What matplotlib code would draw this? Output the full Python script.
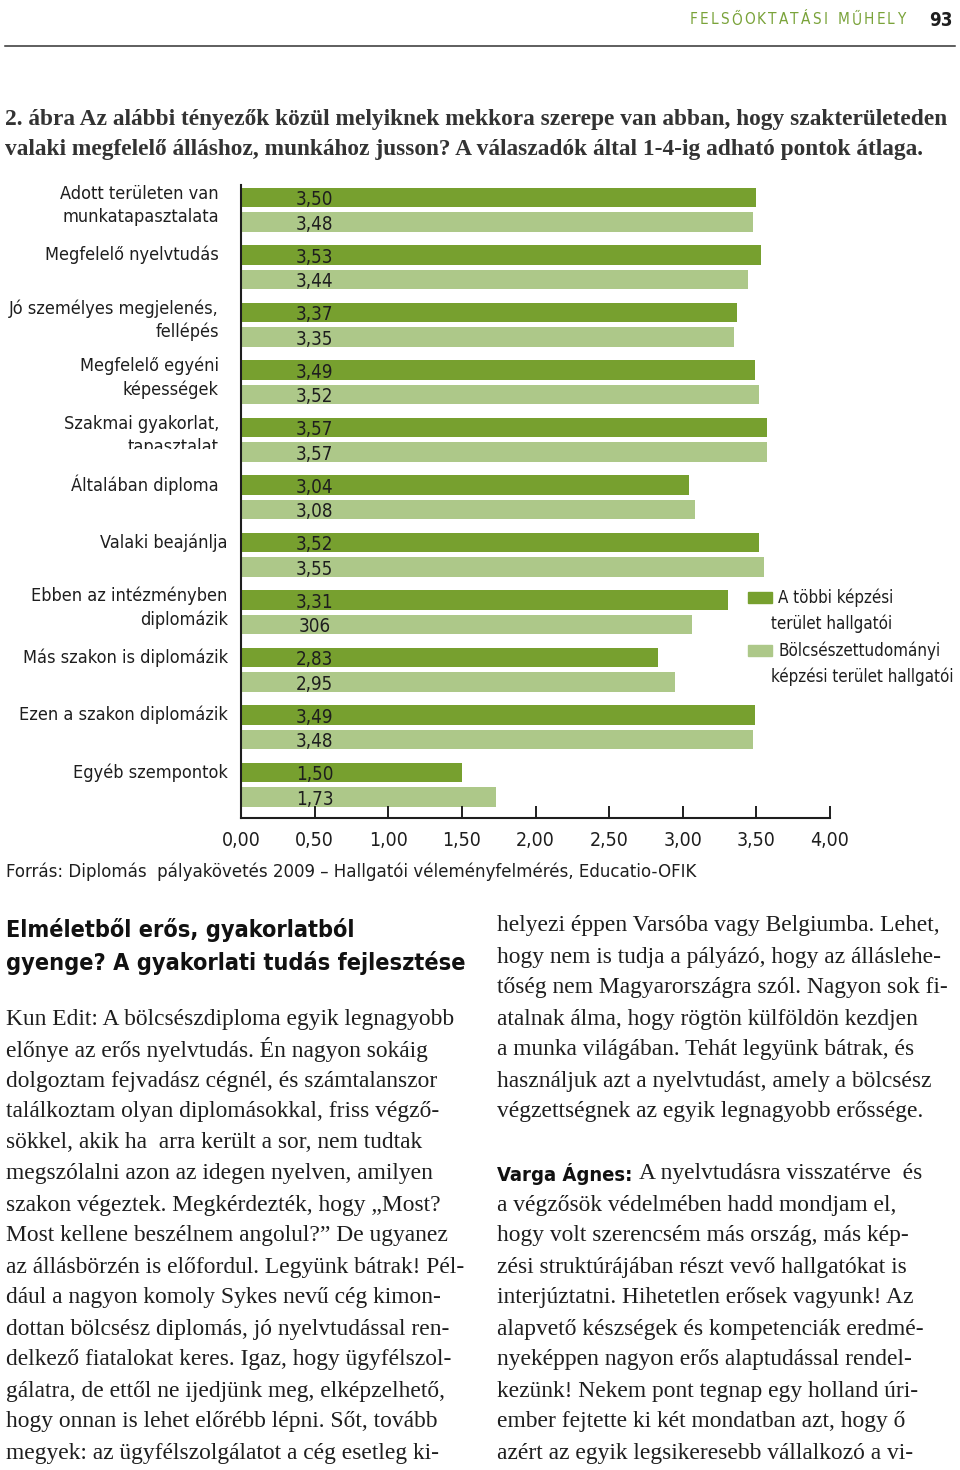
import matplotlib
matplotlib.use('Agg')
import matplotlib.pyplot as plt
from matplotlib.patches import Rectangle
from matplotlib.transforms import Bbox
import numpy as np

# --- chart data -------------------------------------------------------------
categories = [
    'Adott területen van\nmunkatapasztalata',
    'Megfelelő nyelvtudás',
    'Jó személyes megjelenés,\nfellépés',
    'Megfelelő egyéni\nképességek',
    'Szakmai gyakorlat,\ntapasztalat',
    'Általában diploma',
    'Valaki beajánlja',
    'Ebben az intézményben\ndiplomázik',
    'Más szakon is diplomázik',
    'Ezen a szakon diplomázik',
    'Egyéb szempontok',
]
tobbi = [3.50, 3.53, 3.37, 3.49, 3.57, 3.04, 3.52, 3.31, 2.83, 3.49, 1.50]
bolcsesz = [3.48, 3.44, 3.35, 3.52, 3.57, 3.08, 3.55, 3.06, 2.95, 3.48, 1.73]
tobbi_text = ['3,50', '3,53', '3,37', '3,49', '3,57', '3,04', '3,52', '3,31', '2,83', '3,49', '1,50']
bolcsesz_text = ['3,48', '3,44', '3,35', '3,52', '3,57', '3,08', '3,55', '306', '2,95', '3,48', '1,73']
series_names = ['A többi képzési\nterület hallgatói',
                'Bölcsészettudományi\nképzési terület hallgatói']
xticks = [0, 0.5, 1, 1.5, 2, 2.5, 3, 3.5, 4]
xtick_labels = ['0,00', '0,50', '1,00', '1,50', '2,00', '2,50', '3,00', '3,50', '4,00']

# --- page text --------------------------------------------------------------
header = 'FELSŐOKTATÁSI MŰHELY'
page_no = '93'
title_lines = [
    '2. ábra Az alábbi tényezők közül melyiknek mekkora szerepe van abban, hogy szakterületeden',
    'valaki megfelelő álláshoz, munkához jusson? A válaszadók által 1-4-ig adható pontok átlaga.',
]
source = 'Forrás: Diplomás  pályakövetés 2009 – Hallgatói véleményfelmérés, Educatio-OFIK'
heading = ['Elméletből erős, gyakorlatból', 'gyenge? A gyakorlati tudás fejlesztése']
left_col = [
    'Kun Edit: A bölcsészdiploma egyik legnagyobb',
    'előnye az erős nyelvtudás. Én nagyon sokáig',
    'dolgoztam fejvadász cégnél, és számtalanszor',
    'találkoztam olyan diplomásokkal, friss végző-',
    'sökkel, akik ha  arra került a sor, nem tudtak',
    'megszólalni azon az idegen nyelven, amilyen',
    'szakon végeztek. Megkérdezték, hogy „Most?',
    'Most kellene beszélnem angolul?” De ugyanez',
    'az állásbörzén is előfordul. Legyünk bátrak! Pél-',
    'dául a nagyon komoly Sykes nevű cég kimon-',
    'dottan bölcsész diplomás, jó nyelvtudással ren-',
    'delkező fiatalokat keres. Igaz, hogy ügyfélszol-',
    'gálatra, de ettől ne ijedjünk meg, elképzelhető,',
    'hogy onnan is lehet előrébb lépni. Sőt, tovább',
    'megyek: az ügyfélszolgálatot a cég esetleg ki-',
]
right_col = [
    'helyezi éppen Varsóba vagy Belgiumba. Lehet,',
    'hogy nem is tudja a pályázó, hogy az álláslehe-',
    'tőség nem Magyarországra szól. Nagyon sok fi-',
    'atalnak álma, hogy rögtön külföldön kezdjen',
    'a munka világában. Tehát legyünk bátrak, és',
    'használjuk azt a nyelvtudást, amely a bölcsész',
    'végzettségnek az egyik legnagyobb erőssége.',
    '',
    'A nyelvtudásra visszatérve  és',
    'a végzősök védelmében hadd mondjam el,',
    'hogy volt szerencsém más ország, más kép-',
    'zési struktúrájában részt vevő hallgatókat is',
    'interjúztatni. Hihetetlen erősek vagyunk! Az',
    'alapvető készségek és kompetenciák eredmé-',
    'nyeképpen nagyon erős alaptudással rendel-',
    'kezünk! Nekem pont tegnap egy holland úri-',
    'ember fejtette ki két mondatban azt, hogy ő',
    'azért az egyik legsikeresebb vállalkozó a vi-',
]
speaker = 'Varga Ágnes:'

DARK = '#77a02f'
LIGHT = '#adc889'
GREEN_TXT = '#7aa33a'
INK = '#1e1e1e'
NARROW = ['Liberation Sans Narrow', 'DejaVu Sans']
SERIF = ['Liberation Serif', 'DejaVu Serif']

W, H = 960, 1470
fig = plt.figure(figsize=(W / 100, H / 100), dpi=100, facecolor='white')


def P(x, y):
    return x / W, 1 - y / H


# --- chart ------------------------------------------------------------------
ax = fig.add_axes([241 / W, 1 - 818 / H, (830 - 241) / W, (818 - 185) / H])
pos = np.arange(len(categories))
off, bh = 0.213, 0.34
ax.barh(pos - off, tobbi, height=bh, color=DARK, label=series_names[0])
ax.barh(pos + off, bolcsesz, height=bh, color=LIGHT, label=series_names[1])
ax.set_xlim(0, 4)
ax.set_ylim(10.58, -0.43)

for i in pos:
    ax.text(0.5, i - off + 0.04, tobbi_text[i], ha='center', va='center',
            fontsize=13.5, family=NARROW, fontstretch='condensed', color=INK)
    ax.text(0.5, i + off + 0.04, bolcsesz_text[i], ha='center', va='center',
            fontsize=13.5, family=NARROW, fontstretch='condensed', color=INK)
    lab = categories[i]
    xl = -0.15 if i <= 5 else -0.09
    yl = i - 0.08 if '\n' in lab else i - off
    t = ax.text(xl, yl, lab, ha='right', va='center', fontsize=13,
                family=NARROW, fontstretch='condensed', color=INK,
                linespacing=1.35)
    if i == 4:
        # the scan cuts this label off at the bottom
        t.set_clip_on(True)
        t.set_clip_path(None)
        t.set_clip_box(Bbox.from_extents(0, H - 449, W, H))

ax.set_xticks(xticks)
ax.set_xticklabels(xtick_labels, family=NARROW, fontstretch='condensed',
                   fontsize=14, color=INK)
ax.tick_params(axis='x', direction='in', length=9, width=1.4, pad=9, color=INK)
ax.set_yticks([])
for s in ['top', 'right']:
    ax.spines[s].set_visible(False)
for s in ['left', 'bottom']:
    ax.spines[s].set_linewidth(1.5)
    ax.spines[s].set_color(INK)
ax.set_facecolor('none')

# legend, drawn by hand to follow the printed layout
for k, (col, yy) in enumerate([(DARK, 592), (LIGHT, 645)]):
    fig.add_artist(Rectangle(P(748, yy + 11), 24 / W, 11 / H,
                             transform=fig.transFigure, color=col))
    l1, l2 = series_names[k].split('\n')
    fig.text(*P(778, yy + 6), l1, ha='left', va='center', fontsize=12.2,
             family=NARROW, fontstretch='condensed', color=INK)
    fig.text(*P(771, yy + 32), l2, ha='left', va='center', fontsize=12.2,
             family=NARROW, fontstretch='condensed', color=INK)

fig.text(*P(6, 872), source, ha='left', va='center', fontsize=13.3,
         family=NARROW, fontstretch='condensed', color=INK)

# --- page header --------------------------------------------------------------
renderer = fig.canvas.get_renderer()
chars = []
for ch in header:
    t = fig.text(*P(690, 20), ch, ha='left', va='center', fontsize=11,
                 family=NARROW, fontstretch='condensed', color=GREEN_TXT)
    chars.append(t)
widths = [6 if c.get_text() == ' ' else c.get_window_extent(renderer).width for c in chars]
track = (215 - sum(widths)) / (len(chars) - 1)
x = 690
for c, w in zip(chars, widths):
    c.set_position(P(x, 20))
    x += w + track
fig.text(*P(953, 20), page_no, ha='right', va='center', fontsize=13.5,
         family=NARROW, fontstretch='condensed', weight='bold', color=INK)
fig.add_artist(plt.Line2D([5 / W, 955 / W], [1 - 46 / H, 1 - 46 / H],
                          transform=fig.transFigure, color='#333333', lw=1.1))

for k, line in enumerate(title_lines):
    fig.text(*P(5, 119 + 31 * k), line, ha='left', va='center', fontsize=16.8,
             family=SERIF, weight='bold', color='#333333')

# --- article text -------------------------------------------------------------
for k, line in enumerate(heading):
    fig.text(*P(6, 930 + 33 * k), line, ha='left', va='center', fontsize=16.8,
             family=NARROW, fontstretch='condensed', weight='bold', color='#111111')

for k, line in enumerate(left_col):
    fig.text(*P(6, 1019 + 31 * k), line, ha='left', va='center', fontsize=16.9,
             family=SERIF, color=INK)

for k, line in enumerate(right_col):
    if not line:
        continue
    x0 = 497
    if k == 8:
        sp = fig.text(*P(497, 926 + 31 * k), speaker, ha='left', va='center',
                      fontsize=14.5, family=NARROW, fontstretch='condensed',
                      weight='bold', color='#111111')
        x0 = 497 + sp.get_window_extent(renderer).width + 7
    fig.text(*P(x0, 926 + 31 * k), line, ha='left', va='center', fontsize=16.9,
             family=SERIF, color=INK)

fig.savefig('out.png', dpi=100, facecolor='white')
